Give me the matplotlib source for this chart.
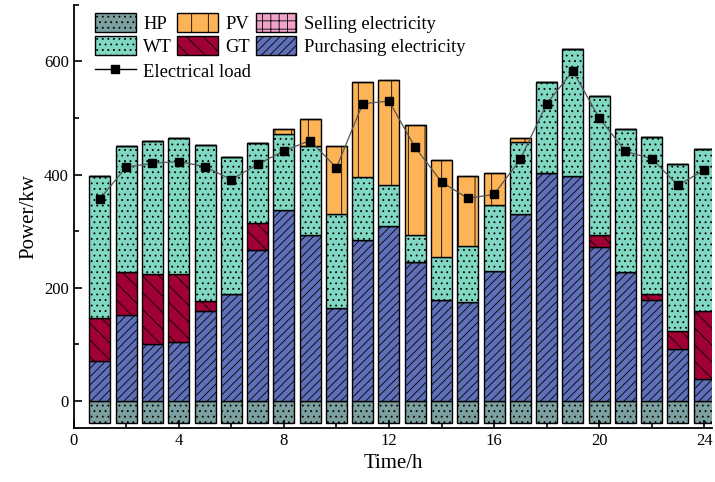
import matplotlib
matplotlib.use("Agg")
import matplotlib.pyplot as plt
import numpy as np
from matplotlib.lines import Line2D
from matplotlib.patches import Patch
from matplotlib.ticker import MultipleLocator

plt.rcParams['font.family'] = ['Liberation Serif', 'DejaVu Serif']
plt.rcParams['hatch.linewidth'] = 0.6

hours = np.arange(1, 25)
hp = [-40] * 24
purchase = [71, 152, 100, 104, 158, 188, 266, 337, 294, 164, 285, 309,
            246, 178, 175, 230, 331, 402, 398, 272, 228, 178, 92, 38]
gt = [75, 76, 124, 120, 19, 0, 49, 0, 0, 0, 0, 0,
      0, 0, 0, 0, 0, 0, 0, 22, 0, 10, 31, 120]
wt = [251, 222, 235, 240, 276, 243, 141, 135, 157, 167, 111, 72,
      48, 76, 98, 117, 126, 162, 224, 244, 252, 278, 296, 288]
pv = [0, 0, 0, 0, 0, 0, 0, 9, 47, 119, 168, 187,
      193, 171, 124, 56, 8, 0, 0, 0, 0, 0, 0, 0]
sell = [0] * 24
load = [357, 413, 420, 423, 414, 391, 418, 442, 460, 412, 525, 530,
        448, 387, 358, 365, 427, 525, 583, 500, 441, 428, 381, 408]

c_hp = '#7C9F9F'
c_wt = '#80D8C2'
c_pv = '#FDB457'
c_gt = '#A00034'
c_buy = '#6070B8'
c_sell = '#EFA3CB'

fig = plt.figure(figsize=(7.15, 4.82), dpi=100)
ax = fig.add_axes([0.103, 0.112, 0.893, 0.878])

w = 0.8
kw = dict(width=w, edgecolor='black', linewidth=1.0)
ax.bar(hours, hp, color=c_hp, hatch='...', **kw)
ax.bar(hours, purchase, color=c_buy, hatch='////', **kw)
b1 = np.array(purchase)
ax.bar(hours, gt, bottom=b1, color=c_gt, hatch='\\\\', **kw)
b2 = b1 + np.array(gt)
ax.bar(hours, wt, bottom=b2, color=c_wt, hatch='...', **kw)
b3 = b2 + np.array(wt)
ax.bar(hours, pv, bottom=b3, color=c_pv, hatch='|', **kw)
b4 = b3 + np.array(pv)
ax.bar(hours, sell, bottom=b4, color=c_sell, hatch='++', **kw)

ax.plot(hours, load, color='#555555', linewidth=0.9, marker='s',
        markersize=6.3, markerfacecolor='black', markeredgecolor='black')

ax.set_xlim(0, 24.3)
ax.set_ylim(-48, 700)
ax.xaxis.set_major_locator(MultipleLocator(4))
ax.xaxis.set_minor_locator(MultipleLocator(2))
ax.yaxis.set_major_locator(MultipleLocator(200))
ax.yaxis.set_minor_locator(MultipleLocator(100))
ax.tick_params(which='both', direction='in', labelsize=12, width=1.2)
ax.tick_params(which='major', length=6)
ax.tick_params(which='minor', length=3.5)
for s in ('top', 'right'):
    ax.spines[s].set_visible(False)
for s in ('left', 'bottom'):
    ax.spines[s].set_linewidth(1.3)

ax.set_xlabel('Time/h', fontsize=15)
ax.set_ylabel('Power/kw', fontsize=15)

# patches in a 3-column block, load line on its own row underneath
patches = [
    Patch(facecolor=c_hp, edgecolor='black', hatch='...', label='HP'),
    Patch(facecolor=c_wt, edgecolor='black', hatch='...', label='WT'),
    Patch(facecolor=c_pv, edgecolor='black', hatch='|', label='PV'),
    Patch(facecolor=c_gt, edgecolor='black', hatch='\\\\', label='GT'),
    Patch(facecolor=c_sell, edgecolor='black', hatch='++', label='Selling electricity'),
    Patch(facecolor=c_buy, edgecolor='black', hatch='////', label='Purchasing electricity'),
]
leg_opts = dict(frameon=False, fontsize=13.3, handlelength=2.2, handleheight=1.15,
                handletextpad=0.4, labelspacing=0.18, borderpad=0,
                borderaxespad=0, loc='upper left', bbox_transform=fig.transFigure)
leg1 = ax.legend(handles=patches, ncol=3, columnspacing=0.3,
                 bbox_to_anchor=(0.133, 0.972), **leg_opts)
ax.add_artist(leg1)
line_h = Line2D([], [], color='black', linewidth=1, marker='s', markersize=6,
                label='Electrical load')
ax.legend(handles=[line_h], bbox_to_anchor=(0.133, 0.872), **leg_opts)

fig.savefig('out.png', dpi=100)
